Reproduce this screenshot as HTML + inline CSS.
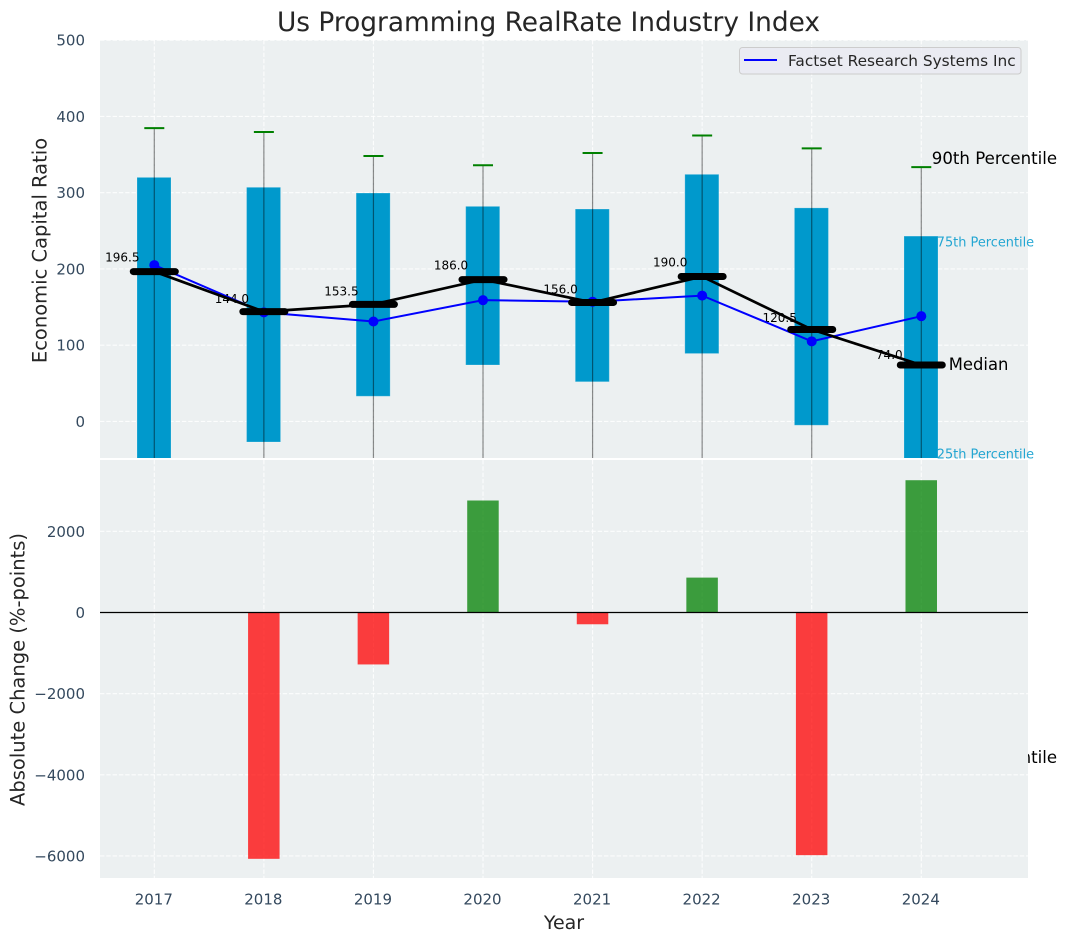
<!DOCTYPE html>
<html>
<head>
<meta charset="utf-8">
<title>Us Programming RealRate Industry Index</title>
<style>
  html, body { margin: 0; padding: 0; background: #ffffff; }
  svg { display: block; }
  text { font-family: "DejaVu Sans", "Liberation Sans", sans-serif; }
</style>
</head>
<body>
<svg id="chart" xmlns="http://www.w3.org/2000/svg" width="1067" height="942" viewBox="0 0 1067 942">
  <defs>
    <clipPath id="top-clip"><rect x="100" y="40" width="928" height="418"></rect></clipPath>
    <clipPath id="bottom-clip"><rect x="100" y="460" width="928" height="418"></rect></clipPath>
  </defs>
  <text x="548.5" y="31" text-anchor="middle" font-size="26.4" fill="#262626">Us Programming RealRate Industry Index</text>
  <rect x="100" y="40" width="928" height="418" fill="#ecf0f1"></rect>
  <g id="top-grid"></g>
  <g id="top-marks" clip-path="url(#top-clip)"></g>
  <g id="top-annotations"></g>
  <rect x="100" y="460" width="928" height="418" fill="#ecf0f1"></rect>
  <g id="bottom-grid"></g>
  <g id="bottom-marks" clip-path="url(#bottom-clip)"></g>
  <g id="overlay-annotations"></g>
  <g id="tick-labels"></g>
  <text transform="translate(46.5 250.5) rotate(-90)" text-anchor="middle" font-size="19.5" fill="#262626">Economic Capital Ratio</text>
  <text transform="translate(24.5 669.5) rotate(-90)" text-anchor="middle" font-size="19.5" fill="#262626">Absolute Change (%-points)</text>
  <text x="564" y="929" text-anchor="middle" font-size="19" fill="#262626">Year</text>
  <g>
    <rect x="739.5" y="47.5" width="281.5" height="26.5" rx="3" fill="#eaeaf2" fill-opacity="0.8" stroke="#cccccc"></rect>
    <line x1="744" y1="60" x2="777" y2="60" stroke="#0000ff" stroke-width="2"></line>
    <text x="788" y="66" font-size="15.35" fill="#262626">Factset Research Systems Inc</text>
  </g>
</svg>
<script>
const years = [2017, 2018, 2019, 2020, 2021, 2022, 2023, 2024];
const whiskerHigh = [384.6, 379.5, 348, 336, 352, 375, 358, 333.5];
const q3Values = [320, 307, 299.5, 282, 278.5, 324, 280, 243];
const medianValues = [196.5, 144.0, 153.5, 186.0, 156.0, 190.0, 120.5, 74.0];
const q1Values = [-70, -27, 33, 74, 52, 89, -5, -55];
const whiskerLow = [-300, -320, -260, -200, -220, -190, -300, -440];
const factsetValues = [205, 143, 131, 159, 157, 165, 105, 138];
const changeValues = [null, -6070, -1280, 2760, -290, 860, -5980, 3260];
const topTicks = [500, 400, 300, 200, 100, 0];
const bottomTicks = [2000, 0, -2000, -4000, -6000];

const NS = 'http://www.w3.org/2000/svg';
const xScale = function (year) { return 154.3 + (year - 2017) * 109.57; };
const yTop = function (v) { return 421.4 - v * 0.7625; };
const yBottom = function (v) { return 612.5 - v * 0.04058; };

function make(tag, attrs, parent, txt) {
  const el = document.createElementNS(NS, tag);
  for (const k in attrs) el.setAttribute(k, attrs[k]);
  if (txt !== undefined) el.textContent = txt;
  parent.appendChild(el);
  return el;
}

const topGrid = document.getElementById('top-grid');
const bottomGrid = document.getElementById('bottom-grid');
const topMarks = document.getElementById('top-marks');
const bottomMarks = document.getElementById('bottom-marks');
const topNotes = document.getElementById('top-annotations');
const overlayNotes = document.getElementById('overlay-annotations');
const tickLabels = document.getElementById('tick-labels');
const gridStyle = { stroke: '#ffffff', 'stroke-width': 1.1, 'stroke-dasharray': '4.4 1.9', 'stroke-opacity': 0.85 };

years.forEach(function (yr) {
  const x = xScale(yr);
  const g1 = make('line', Object.assign({ x1: x, x2: x, y1: 40, y2: 458 }, gridStyle), topGrid);
  
  
  const g2 = make('line', Object.assign({ x1: x, x2: x, y1: 460, y2: 878 }, gridStyle), bottomGrid);
  
  
  const t = make('text', { x: x - 0.5, y: 904.5, 'text-anchor': 'middle', 'font-size': 15, fill: '#34495e' }, tickLabels, String(yr));
  
  
});

topTicks.forEach(function (v) {
  const y = yTop(v);
  const g = make('line', Object.assign({ x1: 100, x2: 1028, y1: y, y2: y }, gridStyle), topGrid);
  
  
  const t = make('text', { x: 85, y: y + 5.5, 'text-anchor': 'end', 'font-size': 15, fill: '#34495e' }, tickLabels, String(v));
  
  
});

bottomTicks.forEach(function (v) {
  const y = yBottom(v);
  const g = make('line', Object.assign({ x1: 100, x2: 1028, y1: y, y2: y }, gridStyle), bottomGrid);
  
  
  const label = (v < 0 ? '\u2212' : '') + Math.abs(v);
  const t = make('text', { x: 85, y: y + 5.5, 'text-anchor': 'end', 'font-size': 15, fill: '#34495e' }, tickLabels, label);
  
  
});

/* boxes */
years.forEach(function (yr, i) {
  const x = xScale(yr);
  const top = yTop(q3Values[i]);
  const bot = yTop(q1Values[i]);
  const box = make('rect', { x: x - 17.3, y: top, width: 34, height: bot - top, fill: '#0099cc', stroke: '#ffffff', 'stroke-opacity': 0.2, 'stroke-width': 1 }, topMarks);
  
  
});

/* median value labels sit beneath the lines */
years.forEach(function (yr, i) {
  const m = medianValues[i];
  const t = make('text', { x: xScale(yr) - 32, y: yTop(m) - 3.7 - 0.0335 * m, 'text-anchor': 'middle', 'font-size': 12, fill: '#000000' }, topNotes, m.toFixed(1));
  
  
});

/* whiskers */
years.forEach(function (yr, i) {
  const x = xScale(yr);
  const w = make('line', { x1: x, x2: x, y1: yTop(whiskerHigh[i]), y2: yTop(whiskerLow[i]), stroke: '#000000', 'stroke-opacity': 0.45, 'stroke-width': 1.2 }, topMarks);
  
  
  const c = make('line', { x1: x - 10, x2: x + 10, y1: yTop(whiskerHigh[i]), y2: yTop(whiskerHigh[i]), stroke: '#008000', 'stroke-width': 2 }, topMarks);
  
  
});

/* company series */
const factsetPoints = years.map(function (yr, i) { return xScale(yr) + ',' + yTop(factsetValues[i]); }).join(' ');
const factsetLine = make('polyline', { points: factsetPoints, fill: 'none', stroke: '#0000ff', 'stroke-width': 2 }, topNotes);


years.forEach(function (yr, i) {
  const p = make('circle', { cx: xScale(yr), cy: yTop(factsetValues[i]), r: 5, fill: '#0000ff' }, topNotes);
  
  
});

/* median line and caps */
const medianPoints = years.map(function (yr, i) { return xScale(yr) + ',' + yTop(medianValues[i]); }).join(' ');
const medianLine = make('polyline', { points: medianPoints, fill: 'none', stroke: '#000000', 'stroke-width': 2.7 }, topNotes);


years.forEach(function (yr, i) {
  const x = xScale(yr);
  const y = yTop(medianValues[i]);
  const m = make('line', { x1: x - 21, x2: x + 21, y1: y, y2: y, stroke: '#000000', 'stroke-width': 7, 'stroke-linecap': 'round' }, topNotes);
  
  
});

/* change bars */
years.forEach(function (yr, i) {
  const v = changeValues[i];
  if (v === null) return;
  const a = yBottom(v);
  const b = yBottom(0);
  const bar = make('rect', { x: xScale(yr) - 15.8, y: Math.min(a, b), width: 31.5, height: Math.abs(a - b), fill: v < 0 ? '#ff0000' : '#008000', 'fill-opacity': 0.75 }, bottomMarks);
  
  
});
const zeroLine = make('line', { x1: 100, x2: 1028, y1: yBottom(0), y2: yBottom(0), stroke: '#000000', 'stroke-width': 1.2 }, bottomMarks);



/* percentile annotations on the last year */
const last = years.length - 1;
const lastX = xScale(years[last]);
const n90 = make('text', { x: lastX + 10.5, y: yTop(whiskerHigh[last]) - 3, 'font-size': 16.6, fill: '#000000' }, overlayNotes, '90th Percentile');


const nMed = make('text', { x: lastX + 27.5, y: yTop(medianValues[last]) + 5, 'font-size': 16.4, fill: '#000000' }, overlayNotes, 'Median');


const n75 = make('text', { x: lastX + 15.5, y: yTop(q3Values[last]) + 10.5, 'font-size': 12.9, fill: '#0099cc', 'fill-opacity': 0.85 }, overlayNotes, '75th Percentile');


const n25 = make('text', { x: lastX + 15.5, y: yTop(q1Values[last]) - 5, 'font-size': 12.9, fill: '#0099cc', 'fill-opacity': 0.85 }, overlayNotes, '25th Percentile');


const n10 = make('text', { x: lastX + 10.5, y: yTop(whiskerLow[last]) + 6, 'font-size': 16.6, fill: '#000000' }, topNotes, '10th Percentile');


</script>
</body>
</html>
